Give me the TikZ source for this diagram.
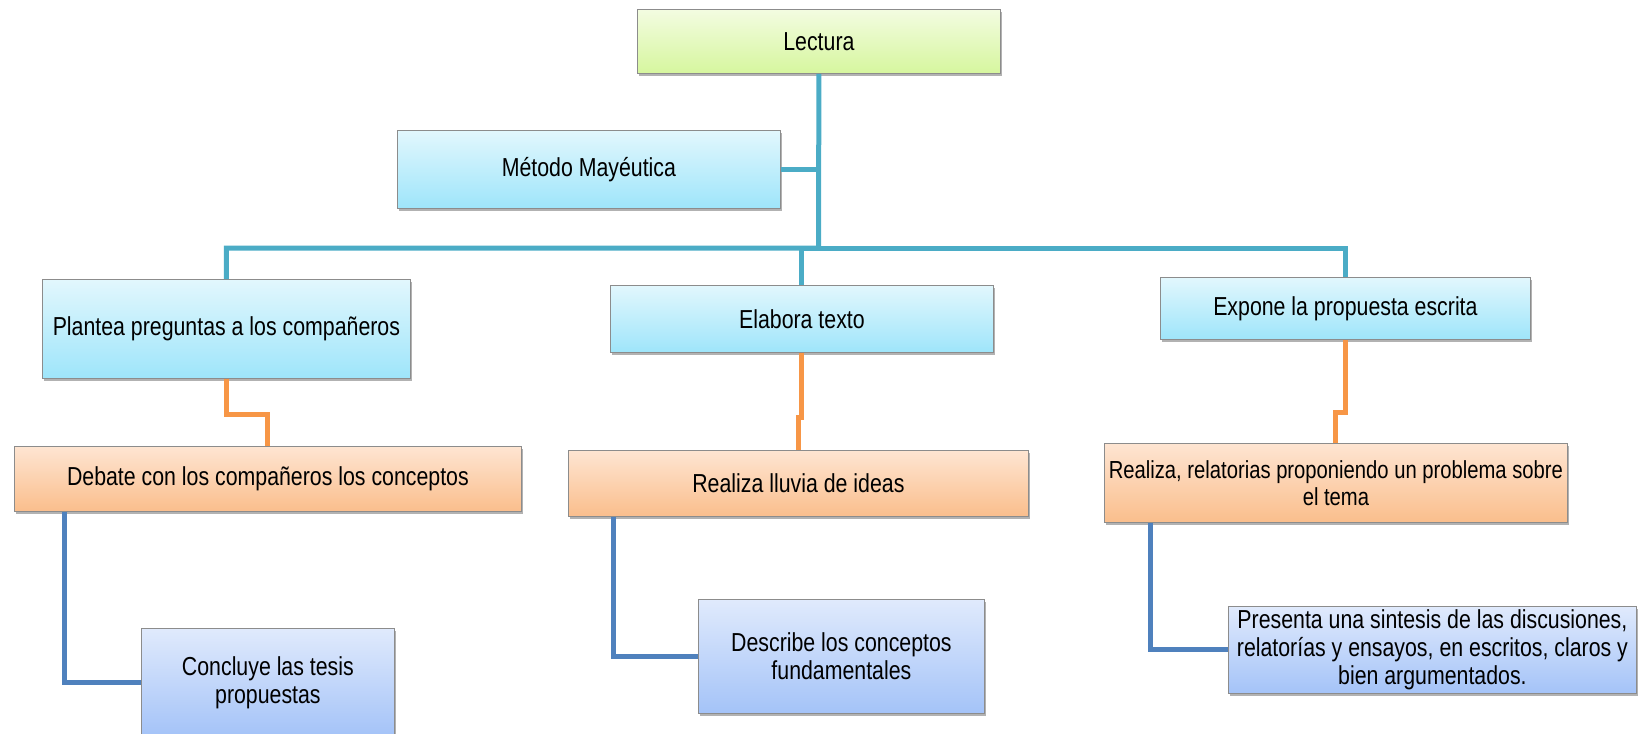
\documentclass[tikz,border=0pt]{standalone}
\usepackage{fontspec}
\setmainfont{Liberation Sans}[FakeStretch=0.82]
\usetikzlibrary{shadows}

\definecolor{lineteal}{RGB}{75,172,198}
\definecolor{lineorange}{RGB}{247,150,70}
\definecolor{lineblue}{RGB}{79,129,189}
\definecolor{boxedge}{RGB}{140,140,140}
\definecolor{greentop}{RGB}{243,252,225}
\definecolor{greenbot}{RGB}{214,246,158}
\definecolor{cyantop}{RGB}{226,247,253}
\definecolor{cyanbot}{RGB}{158,229,250}
\definecolor{orangetop}{RGB}{254,229,210}
\definecolor{orangebot}{RGB}{250,190,140}
\definecolor{bluetop}{RGB}{224,234,252}
\definecolor{bluebot}{RGB}{164,195,248}

\tikzset{every picture/.style={line width=0.75pt}}
\tikzset{
  mapbox/.style={draw=boxedge, line width=0.6pt, inner sep=1pt, align=center,
    font=\fontsize{19.5}{21}\selectfont,
    drop shadow={shadow xshift=1pt, shadow yshift=-2pt, opacity=0.3, fill=black}},
  greenbox/.style={mapbox, top color=greentop, bottom color=greenbot},
  cyanbox/.style={mapbox, top color=cyantop, bottom color=cyanbot},
  orangebox/.style={mapbox, top color=orangetop, bottom color=orangebot},
  bluebox/.style={mapbox, top color=bluetop, bottom color=bluebot},
  tealline/.style={draw=lineteal, line width=3.75pt},
  orangeline/.style={draw=lineorange, line width=3.75pt},
  blueline/.style={draw=lineblue, line width=3.75pt}
}

\begin{document}
\begin{tikzpicture}[x=0.75pt,y=0.75pt,yscale=-1,xscale=1]
\useasboundingbox (0,0) rectangle (1651,733);

%Junction of the top-level connectors
\coordinate (bar) at (818.5,248);

% Text Node
\draw (637,9) node [anchor=north west][greenbox, minimum width=272.25pt, minimum height=48pt] (lectura) {Lectura};
% Text Node
\draw (397,130) node [anchor=north west][cyanbox, minimum width=287.25pt, minimum height=58.5pt] (metodo) {Método Mayéutica};
% Text Node
\draw (42,279) node [anchor=north west][cyanbox, minimum width=276pt, minimum height=74.25pt] (plantea) {Plantea preguntas a los compañeros};
% Text Node
\draw (610,285) node [anchor=north west][cyanbox, minimum width=287.25pt, minimum height=50.25pt] (elabora) {Elabora texto};
% Text Node
\draw (1160,277) node [anchor=north west][cyanbox, minimum width=277.5pt, minimum height=46.5pt] (expone) {Expone la propuesta escrita};
% Text Node
\draw (14,446) node [anchor=north west][orangebox, minimum width=380.25pt, minimum height=48.75pt] (debate) {Debate con los compañeros los conceptos};
% Text Node
\draw (568,450) node [anchor=north west][orangebox, minimum width=345pt, minimum height=49.5pt] (lluvia) {Realiza lluvia de ideas};
% Text Node
\draw (1104,443) node [anchor=north west][orangebox, minimum width=347.25pt, minimum height=59.25pt, font=\fontsize{18.5}{20.5}\selectfont] (relatorias) {Realiza, relatorias proponiendo un problema sobre\\el tema};
% Text Node
\draw (141,628) node [anchor=north west][bluebox, minimum width=189.75pt, minimum height=81pt] (concluye) {Concluye las tesis\\propuestas};
% Text Node
\draw (698,599) node [anchor=north west][bluebox, minimum width=214.5pt, minimum height=85.5pt] (describe) {Describe los conceptos\\fundamentales};
% Text Node
\draw (1228,606) node [anchor=north west][bluebox, minimum width=306pt, minimum height=65.25pt] (presenta) {Presenta una sintesis de las discusiones,\\relatorías y ensayos,  en escritos, claros y\\bien argumentados.};

%Connectors
\draw [tealline] (lectura.south) -- (bar) -| (plantea.north);
\draw [tealline] (bar) -| (elabora.north);
\draw [tealline] (bar) -| (expone.north);
\draw [tealline] (metodo.east) -- (metodo.east -| bar);
\draw [orangeline] (plantea.south) -- ++(0,36) -| (debate.north);
\draw [orangeline] (elabora.south) -- ++(0,65) -| (lluvia.north);
\draw [orangeline] (expone.south) -- ++(0,73) -| (relatorias.north);
\draw [blueline] ([shift={(50,0)}]debate.south west) |- (concluye.west);
\draw [blueline] ([shift={(45,0)}]lluvia.south west) |- (describe.west);
\draw [blueline] ([shift={(46,0)}]relatorias.south west) |- (presenta.west);

\end{tikzpicture}
\end{document}
